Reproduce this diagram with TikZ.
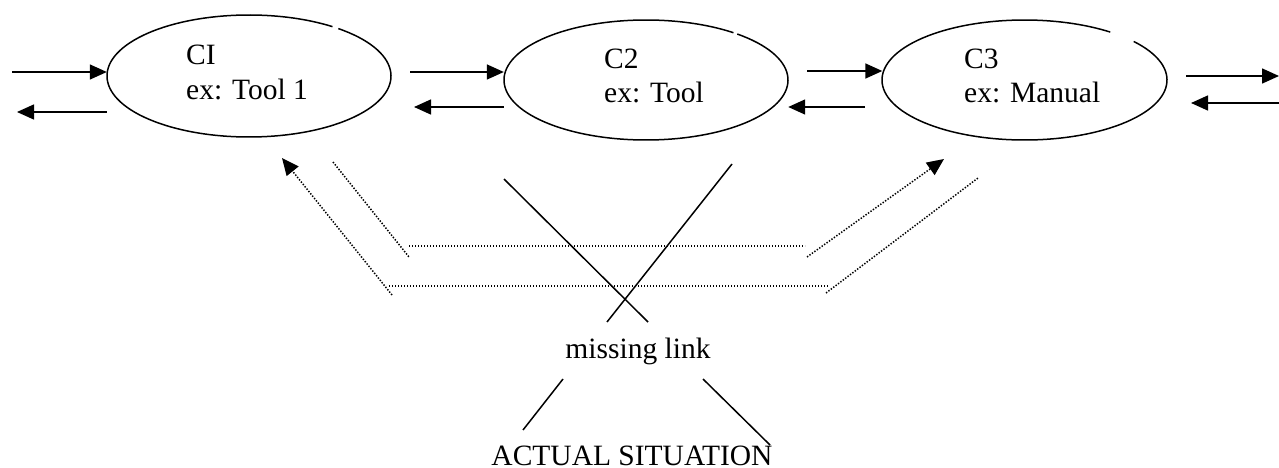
\documentclass[tikz,border=0pt]{standalone}
\usepackage{fontspec}
\setmainfont{Liberation Serif}
\usetikzlibrary{arrows.meta,shapes.geometric}
\tikzset{
  solidline/.style={line width=1.5pt},
  arr/.style={solidline, -{Triangle[length=17pt,width=15pt]}},
  dotline/.style={line width=1.5pt, dash pattern=on 1.4pt off 1.6pt},
  dotarr/.style={dotline, -{Triangle[length=17pt,width=15pt]}},
  blob/.style={ellipse, minimum width=284pt, minimum height=122pt, inner sep=0pt},
  label/.style={inner sep=0pt, align=left, font=\fontsize{29.5}{35}\selectfont},
}
\begin{document}
\begin{tikzpicture}[x=1pt,y=-1pt]
\useasboundingbox (0,0) rectangle (1279,468);

% the three components (outlines drawn as arcs, each with a small break near the top right)
\node[blob] (c1) at (249,76) {};
\node[blob] (c2) at (646,80) {};
\node[blob] (c3) at (1024.5,80) {};
\draw[solidline] ([shift={(c1.center)}] -51:142 and 61) arc[start angle=-51, end angle=306, x radius=142, y radius=61];
\draw[solidline] ([shift={(c2.center)}] -50:142 and 60) arc[start angle=-50, end angle=308, x radius=142, y radius=60];
\draw[solidline] ([shift={(c3.center)}] -40:142.5 and 60) arc[start angle=-40, end angle=307, x radius=142.5, y radius=60];

% two-line labels, placed by the baseline of their last line
\node[label, anchor=base west] (t1) at (186,100) {CI\\ex: Tool 1};
\node[label, anchor=base west] (t2) at (604,103) {C2\\ex: Tool};
\node[label, anchor=base west] (t3) at (964,103) {C3\\ex: Manual};

% flow arrows between the components
\coordinate (i1) at (12,72);
\coordinate (o1) at (17,112);
\coordinate (i2) at (410,72);
\coordinate (o2) at (414,107);
\coordinate (i3) at (807,71);
\coordinate (o3) at (865,107);
\coordinate (i4) at (1186,76);
\coordinate (e4) at (1279,76);
\coordinate (o4) at (1279,103);
\coordinate (p4) at (1191,103);

\draw[arr] (i1) -- (i1 -| c1.west);
\draw[arr] (o1 -| c1.west) -- (o1);
\draw[arr] (i2) -- (i2 -| c2.west);
\draw[arr] (o2 -| c2.west) -- (o2);
\draw[arr] (i3) -- (i3 -| c3.west);
\draw[arr] (o3) -- (o3 -| c2.east);
\draw[arr] (i4) -- (e4);
\draw[arr] (o4) -- (p4);

% dotted bypass from C1 to C3
\coordinate (a1) at (392,295);
\coordinate (a2) at (282,158);
\coordinate (b1) at (389,286);
\coordinate (b2) at (828,286);
\coordinate (a3) at (826,293);
\coordinate (a4) at (978,178);
\coordinate (d1) at (333,162);
\coordinate (d2) at (409,257);
\coordinate (h1) at (409,246);
\coordinate (h2) at (805,246);
\coordinate (d3) at (807,257);
\coordinate (d4) at (944,159);

\draw[dotarr] (a1) -- (a2);
\draw[dotline] (b1) -- (b2);
\draw[dotline] (a3) -- (a4);
\draw[dotline] (d1) -- (d2);
\draw[dotline] (h1) -- (h2);
\draw[dotarr] (d3) -- (d4);

% crossed-out link and its labels
\node[label, anchor=base] (ml) at (638,358) {missing link};
\node[label, anchor=base] (as) at (632,465) {ACTUAL SITUATION};

\coordinate (x1) at (504,179);
\coordinate (x2) at (648,322);
\coordinate (x3) at (607,322);
\coordinate (x4) at (732,164);
\draw[solidline] (x1) -- (x2);
\draw[solidline] (x3) -- (x4);

\coordinate (s1) at (563,379);
\coordinate (s2) at (523,430);
\coordinate (s3) at (703,379);
\coordinate (s4) at (770,445);
\draw[solidline] (s1) -- (s2);
\draw[solidline] (s3) -- (s4);
\end{tikzpicture}
\end{document}
